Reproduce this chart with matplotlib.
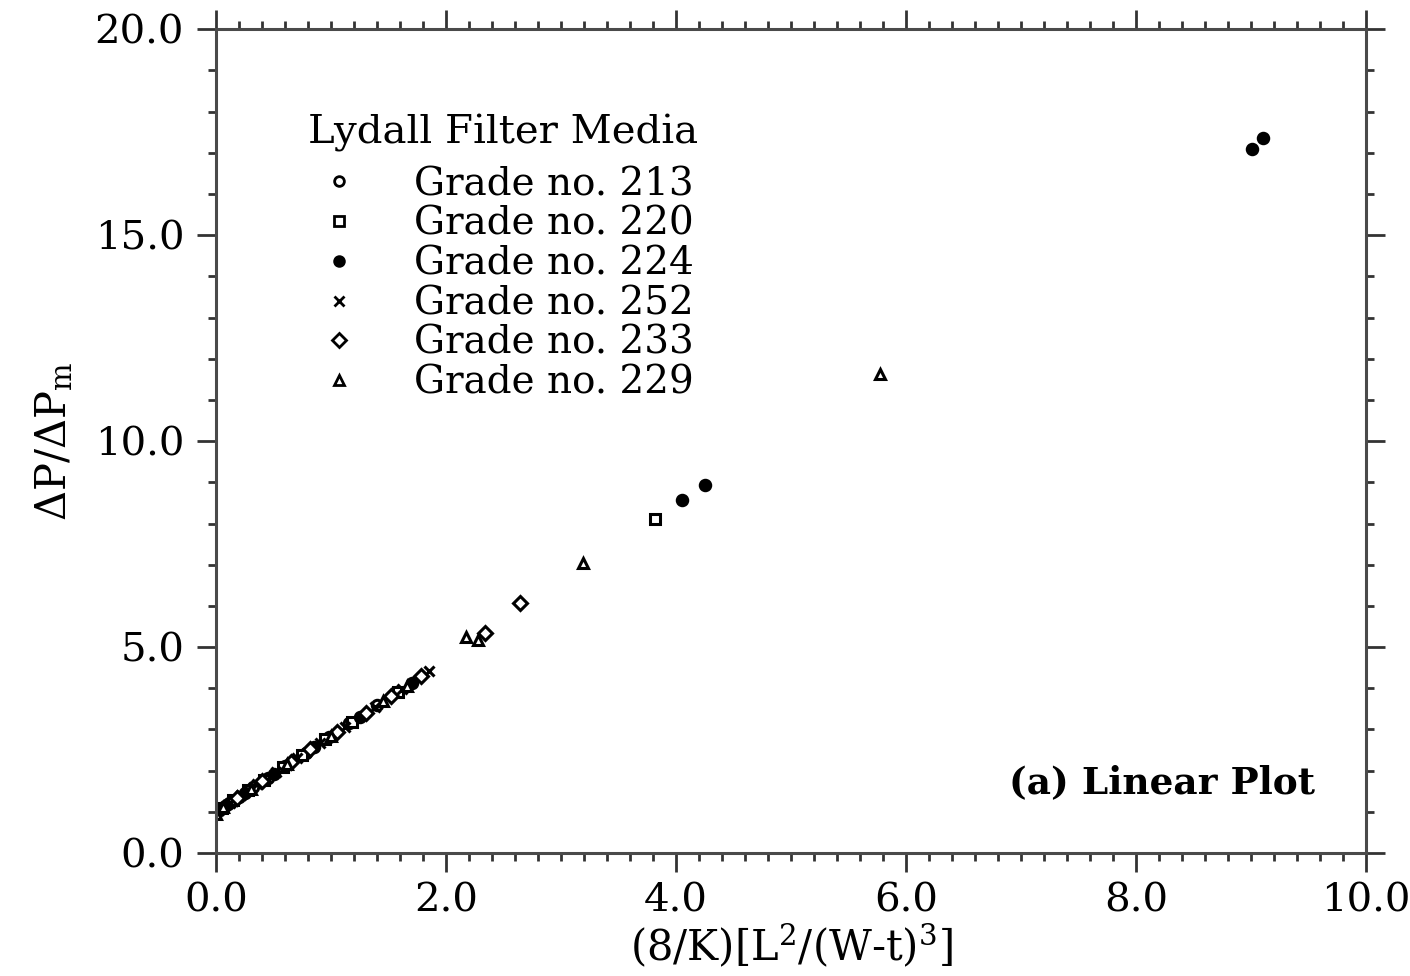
import matplotlib
matplotlib.use("Agg")
import matplotlib.pyplot as plt
from matplotlib.ticker import MultipleLocator, FormatStrFormatter

plt.rcParams['font.family'] = ['DejaVu Serif']
plt.rcParams['mathtext.fontset'] = 'dejavuserif'

# Normalised pressure drop vs. geometric parameter for several filter grades
grade_labels = ["Grade no. 213", "Grade no. 220", "Grade no. 224",
                "Grade no. 252", "Grade no. 233", "Grade no. 229"]

x_213 = [0.02, 0.10, 0.20, 0.32, 0.45, 0.60, 0.78, 0.98, 1.16, 1.40]
y_213 = [1.03, 1.19, 1.37, 1.60, 1.83, 2.11, 2.44, 2.82, 3.16, 3.60]

x_220 = [0.05, 0.15, 0.28, 0.42, 0.58, 0.75, 0.95, 1.18, 1.58, 3.82]
y_220 = [1.10, 1.28, 1.52, 1.78, 2.08, 2.39, 2.76, 3.18, 3.92, 8.10]

x_224 = [0.08, 0.25, 0.50, 0.85, 1.25, 1.70, 4.05, 4.25, 9.01, 9.10]
y_224 = [1.15, 1.46, 1.93, 2.57, 3.30, 4.14, 8.57, 8.93, 17.10, 17.35]

x_252 = [0.03, 0.12, 0.22, 0.36, 0.52, 0.70, 0.90, 1.12, 1.38, 1.62, 1.85]
y_252 = [1.05, 1.22, 1.41, 1.67, 1.96, 2.30, 2.67, 3.07, 3.55, 3.99, 4.42]

x_233 = [0.18, 0.40, 0.65, 0.82, 1.05, 1.30, 1.52, 1.78, 2.34, 2.64]
y_233 = [1.34, 1.74, 2.20, 2.52, 2.94, 3.41, 3.81, 4.29, 5.34, 6.07]

x_229 = [0.00, 0.06, 0.30, 0.62, 1.00, 1.45, 1.66, 2.17, 2.28, 3.19, 5.77]
y_229 = [0.95, 1.12, 1.56, 2.15, 2.85, 3.68, 4.05, 5.24, 5.18, 7.04, 11.63]

series = [
    (x_213, y_213, dict(marker='o', mfc='white')),
    (x_220, y_220, dict(marker='s', mfc='white')),
    (x_224, y_224, dict(marker='o', mfc='black')),
    (x_252, y_252, dict(marker='x', mfc='black')),
    (x_233, y_233, dict(marker='D', mfc='white')),
    (x_229, y_229, dict(marker='^', mfc='white')),
]

fig = plt.figure(figsize=(14.1, 9.76), dpi=100)
ax = fig.add_axes([0.1532, 0.126, 0.8156, 0.844])

for (xs, ys, style), label in zip(series, grade_labels):
    ax.plot(xs, ys, linestyle='none', markersize=7.5, mew=2.2,
            mec='black', color='black', label=label, **style)

ax.set_xlim(0, 10)
ax.set_ylim(0, 20)
ax.xaxis.set_major_locator(MultipleLocator(2.0))
ax.xaxis.set_minor_locator(MultipleLocator(0.2))
ax.yaxis.set_major_locator(MultipleLocator(5.0))
ax.yaxis.set_minor_locator(MultipleLocator(1.0))
ax.xaxis.set_major_formatter(FormatStrFormatter('%.1f'))
ax.yaxis.set_major_formatter(FormatStrFormatter('%.1f'))

for s in ax.spines.values():
    s.set_linewidth(2.2)
    s.set_color('#4a4a4a')

ax.tick_params(which='both', direction='out', top=True, right=True,
               color='#333333', width=2)
ax.tick_params(which='major', length=14, labelsize=29)
ax.tick_params(which='minor', length=6)
ax.tick_params(axis='x', which='major', pad=7)
ax.tick_params(axis='y', which='major', pad=9)

ax.set_xlabel(r'(8/K)[L$^2$/(W-t)$^3$]', fontsize=30, labelpad=2)
ax.set_ylabel(r'$\Delta$P/$\Delta$P$_{\rm m}$', fontsize=30, labelpad=14)

leg = ax.legend(loc='upper left', bbox_to_anchor=(0.056, 0.93),
                frameon=False, fontsize=28, title='Lydall Filter Media',
                title_fontsize=29, alignment='left', handlelength=1.62,
                handletextpad=1.12, labelspacing=0.07, borderpad=0.2,
                markerscale=1.0)
leg._legend_box.sep = 10
for h in leg.legend_handles:
    h.set_markersize(7)
    h.set_markeredgewidth(2.0)

ax.text(0.956, 0.085, '(a) Linear Plot', transform=ax.transAxes,
        ha='right', va='center', fontsize=27, fontweight='bold')

fig.savefig('out.png', dpi=100, facecolor='white')
